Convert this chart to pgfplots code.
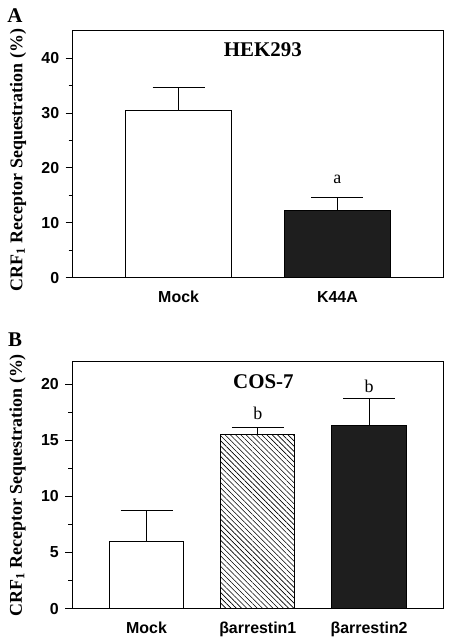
\documentclass[border=0pt]{standalone}
\usepackage{pgfplots}
\pgfplotsset{compat=1.18}
\usepackage{fontspec}
\setmainfont{Liberation Serif}
\newfontfamily\arialfont{Liberation Sans}
\usetikzlibrary{patterns.meta}
\definecolor{barblack}{HTML}{1E1E1E}
\pgfplotsset{
  panel/.style={
    scale only axis,
    axis line style={line width=1pt},
    ybar, bar shift=0pt, bar width=0.667,
    xmin=0.333,
    ymin=0,
    xtick style={draw=none},
    ytick pos=left, tick align=outside,
    major tick length=7bp, minor tick length=4bp,
    minor y tick num=1,
    every tick/.style={line width=1pt, black},
    /pgf/number format/assume math mode=true,
    ticklabel style={font=\arialfont\bfseries\fontsize{16}{17}\selectfont},
    yticklabel style={xshift=-3bp},
    xticklabel style={yshift=-3bp},
    ylabel style={font=\bfseries\fontsize{18}{19}\selectfont, anchor=center, rotate=0},
    error bars/y dir=plus, error bars/y explicit,
    error bars/error mark=-,
    error bars/error mark options={mark size=26bp, line width=1pt, rotate=90},
    error bars/error bar style={line width=1pt},
    every axis plot/.append style={draw=black, line width=1pt},
  }
}
\begin{document}
\begin{tikzpicture}
\path[use as bounding box] (0,0) rectangle (451bp,-644bp);
\node[font=\bfseries\fontsize{21}{22}\selectfont, anchor=center] at (15bp,-16bp) {A};
\node[font=\bfseries\fontsize{21}{22}\selectfont, anchor=center] at (15bp,-340bp) {B};
\begin{axis}[panel,
  at={(72.7bp,-277.7bp)}, anchor=south west,
  width=370.6bp, height=247bp,
  xmax=2.667, ymax=45,
  ytick={0,10,20,30,40},
  xtick={1,2},
  xticklabels={Mock,K44A},
  ylabel={CRF$_{\mathbf 1}$ Receptor Sequestration (\%)},
  ylabel style={at={(axis description cs:-0.1476,0.4765)}},
]
\addplot[fill=white] coordinates {(1,30.5) +- (0,4.2)};
\addplot[fill=barblack] coordinates {(2,12.2) +- (0,2.5)};
\node[font=\bfseries\fontsize{21}{22}\selectfont] at (axis cs:1.53,41.6) {HEK293};
\node[font=\fontsize{18}{19}\selectfont] at (axis cs:2,18) {a};
\end{axis}
\begin{axis}[panel,
  at={(72.3bp,-608.7bp)}, anchor=south west,
  width=371bp, height=247bp,
  xmax=3.667, ymax=22,
  ytick={0,5,10,15,20},
  xtick={1,2,3},
  xticklabels={Mock,βarrestin1,βarrestin2},
  ylabel={CRF$_{\mathbf 1}$ Receptor Sequestration (\%)},
  ylabel style={at={(axis description cs:-0.1476,0.5)}},
]
\addplot[fill=white] coordinates {(1,6.0) +- (0,2.77)};
\addplot[pattern={Lines[angle=-45,distance=3.7bp,line width=0.6bp]}] coordinates {(2,15.55) +- (0,0.62)};
\addplot[fill=barblack] coordinates {(3,16.3) +- (0,2.4)};
\node[font=\bfseries\fontsize{21}{22}\selectfont] at (axis cs:2.05,20.2) {COS-7};
\node[font=\fontsize{18}{19}\selectfont] at (axis cs:2,17.4) {b};
\node[font=\fontsize{18}{19}\selectfont] at (axis cs:3,19.8) {b};
\end{axis}
\end{tikzpicture}
\end{document}
